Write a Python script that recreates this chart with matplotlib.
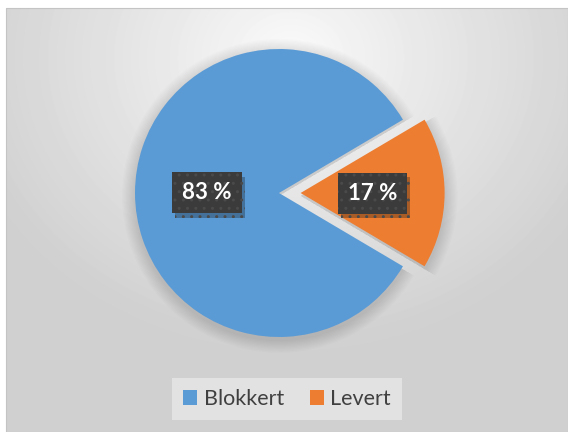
import numpy as np
import matplotlib.pyplot as plt
import matplotlib.patheffects as pe
from matplotlib.patches import Wedge, Rectangle, Patch

# data
labels = ['Blokkert', 'Levert']
shares = [83, 17]
colors = ['#5b9bd5', '#ed7d31']
explode = [0, 0.15]

plt.rcParams['font.family'] = ['Lato', 'DejaVu Sans']

W, H = 568, 432
fig = plt.figure(figsize=(W / 100, H / 100), dpi=100)
fig.patch.set_facecolor('white')

# chart area with a soft radial gradient (light at the top middle)
bw, bh = W - 6, H - 8
bg = fig.add_axes([6 / W, 0, bw / W, bh / H])
yy, xx = np.mgrid[0:bh, 0:bw]
d = np.hypot(xx - 285, (yy - 50) * 1.15)
v = 0.985 - 0.17 * np.clip(d / 340, 0, 1) ** 0.9
bg.imshow(v, cmap='gray', vmin=0, vmax=1, aspect='auto', interpolation='bilinear')
bg.set_axis_off()
fig.patches.append(Rectangle((6 / W, 0), bw / W, bh / H, transform=fig.transFigure,
                             fill=False, ec='#c4c4c4', lw=0.8))

# pie axes: radius 1 -> R pixels
R = 144
cx, cy = 279, H - 193
a, b = 1.9, 1.5
ax = fig.add_axes([(cx - a * R) / W, (cy - b * R) / H, 2 * a * R / W, 2 * b * R / H])
ax.patch.set_alpha(0)

wedges, texts, autotexts = ax.pie(
    shares, colors=colors, explode=explode,
    startangle=360 * shares[1] / 100 / 2, counterclock=True,
    autopct='%1.0f %%', pctdistance=0.5,
    wedgeprops=dict(linewidth=0),
    textprops=dict(color='white', fontsize=16, fontweight='bold'))
ax.set_xlim(-a, a)
ax.set_ylim(-b, b)

# soft shadow under the slices
for w in wedges:
    for k in range(1, 11):
        ax.add_patch(Wedge((w.center[0], w.center[1] - 0.02), w.r * (1 + 0.009 * k),
                           w.theta1, w.theta2, fc='black', alpha=0.013, lw=0, zorder=0.5))

# dark label boxes with a drop shadow
for t in autotexts:
    t.set_bbox(dict(boxstyle='square,pad=0.45', fc='#3b3b3b', ec='#4a4a4a', lw=0, hatch='..'))
    t.get_bbox_patch().set_path_effects(
        [pe.SimplePatchShadow(offset=(2, -3), alpha=0.3), pe.Normal()])

handles = [Patch(facecolor=c, edgecolor='none') for c in colors]
leg = fig.legend(handles, labels, loc='center', bbox_to_anchor=(287 / W, 33 / H), ncol=2,
                 frameon=True, fancybox=False, fontsize=15.5, handlelength=0.65,
                 handleheight=0.65, handletextpad=0.3, columnspacing=1.2, borderpad=0.5,
                 borderaxespad=0, labelcolor='#404040')
leg.get_frame().set_facecolor('#e2e2e2')
leg.get_frame().set_edgecolor('none')
leg.get_frame().set_alpha(1)

fig.savefig('out.png', dpi=100)
